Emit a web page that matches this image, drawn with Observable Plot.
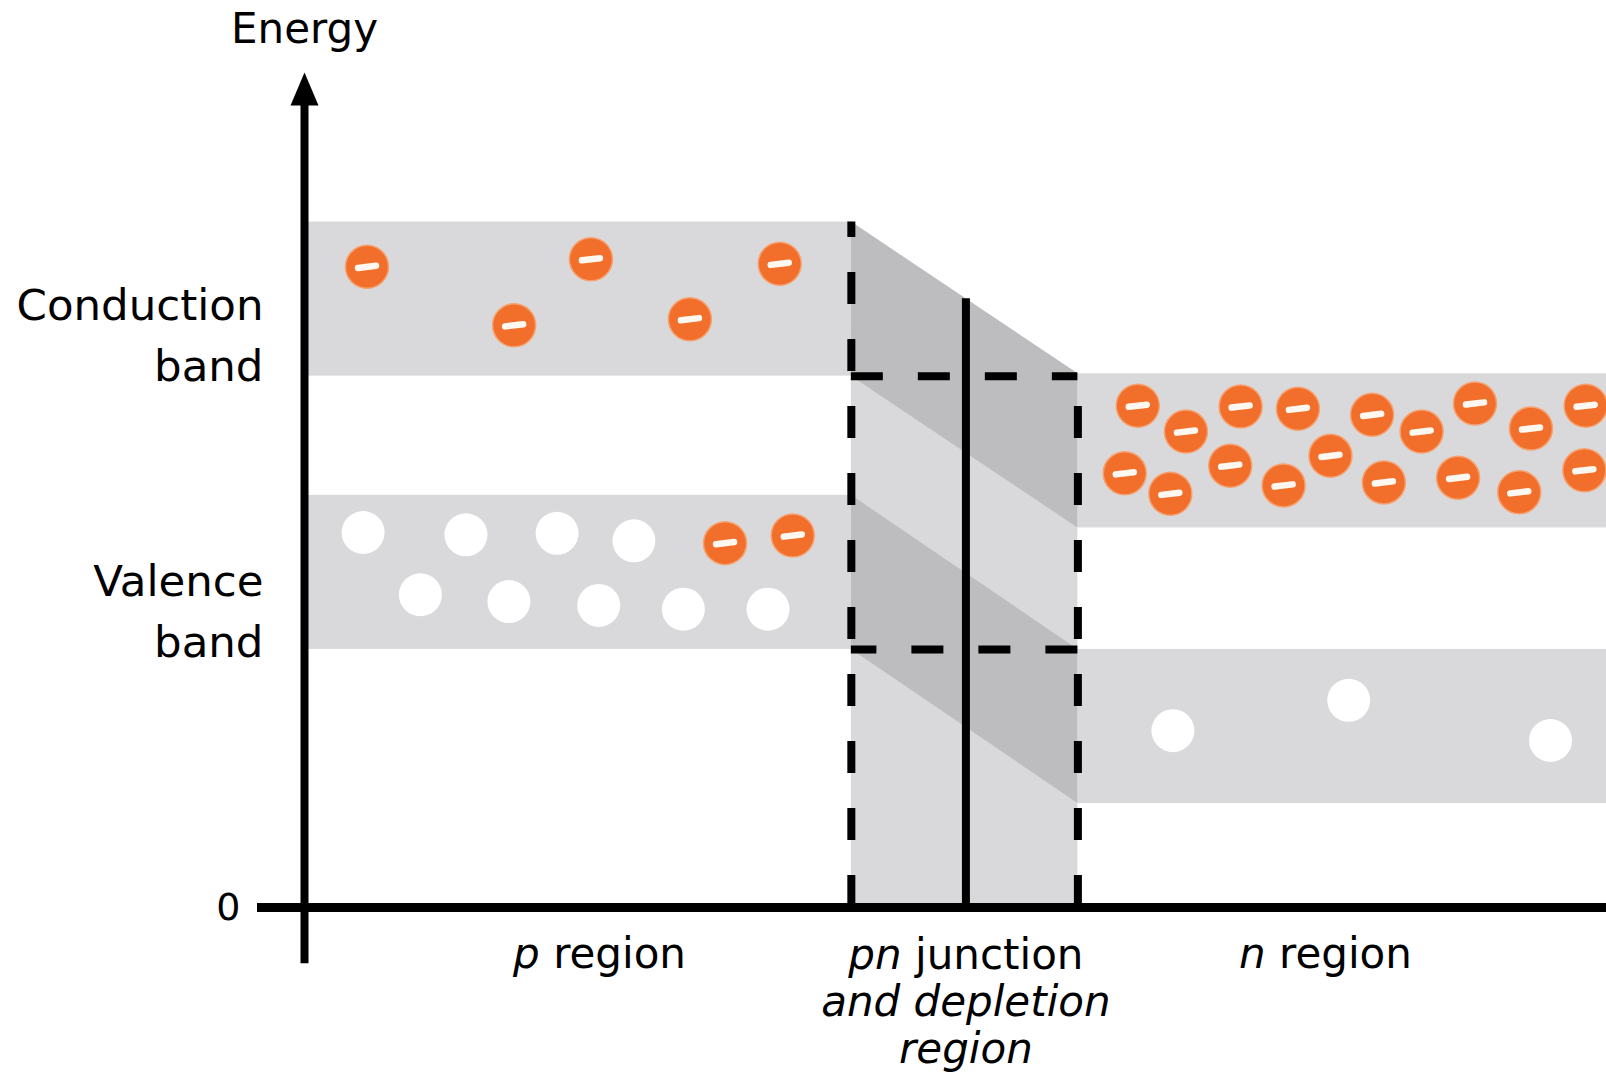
<!DOCTYPE html>
<html>
<head>
<meta charset="utf-8">
<script src="https://cdn.jsdelivr.net/npm/d3@7"></script>
<script src="https://cdn.jsdelivr.net/npm/@observablehq/plot@0.6"></script>
<style>
  html, body { margin: 0; padding: 0; background: #ffffff; overflow: hidden; }
</style>
</head>
<body>
<div id="chart"></div>
<script>
// ---------- data (position along device: 0–100, energy: arbitrary units, 0 at baseline) ----------
const positionDomain = [0, 100];
const energyDomain = [0, 11];

const depletionLeft = 42.0;
const depletionRight = 59.4;
const junctionPosition = 50.8;

const bandRegion = ["p", "p", "n", "n"];
const bandKind   = ["conduction", "valence", "conduction", "valence"];
const bandStart  = [0, 0, 59.4, 59.4];
const bandEnd    = [42.0, 42.0, 100, 100];
const bandBottom = [7.0, 3.4, 5.0, 1.37];
const bandTop    = [9.03, 5.43, 7.03, 3.4];

// electrons (orange, "−")
const electronX = [4.8, 22.0, 16.1, 29.6, 36.5, 32.3, 37.5,
                   64.0, 67.7, 71.9, 76.3, 82.0, 85.8, 89.9, 94.2, 98.4,
                   63.0, 66.5, 71.1, 75.2, 78.8, 82.9, 88.6, 93.3, 98.3];
const electronE = [8.44, 8.54, 7.67, 7.75, 8.48, 4.80, 4.90,
                   6.61, 6.27, 6.60, 6.57, 6.49, 6.27, 6.64, 6.31, 6.61,
                   5.72, 5.45, 5.82, 5.56, 5.95, 5.60, 5.66, 5.47, 5.76];

// holes (white)
const holeX = [4.5, 12.4, 19.4, 25.3, 8.9, 15.7, 22.6, 29.1, 35.6, 66.7, 80.2, 95.7];
const holeE = [4.94, 4.91, 4.93, 4.83, 4.12, 4.03, 3.98, 3.93, 3.93, 2.33, 2.73, 2.20];

const axisTitle = "Energy";
const bandLabels = ["Conduction\nband", "Valence\nband"];
const bandLabelE = [7.59, 3.96];
const regionLabels = ["p region", "pn junction\nand depletion\nregion", "n region"];
const regionLabelX = [22.66, 50.8, 78.42];

// ---------- derived tables ----------
const bands = bandRegion.map((r, i) => ({region: r, kind: bandKind[i], start: bandStart[i], end: bandEnd[i], bottom: bandBottom[i], top: bandTop[i]}));
const pCB = bands[0], pVB = bands[1], nCB = bands[2], nVB = bands[3];

const bent = [];
for (const [p, n] of [[pCB, nCB], [pVB, nVB]]) {
  bent.push({kind: p.kind, x: depletionLeft, y1: p.bottom, y2: p.top});
  bent.push({kind: p.kind, x: depletionRight, y1: n.bottom, y2: n.top});
}
const depletionFill = [{x: depletionLeft, top: pCB.top}, {x: depletionRight, top: nCB.top}];
const junctionTop = pCB.top + (nCB.top - pCB.top) * (junctionPosition - depletionLeft) / (depletionRight - depletionLeft);

const electrons = electronX.map((x, i) => ({x, e: electronE[i]}));
const holes = holeX.map((x, i) => ({x, e: holeE[i]}));

// ---------- custom symbols ----------
const minusSymbol = {draw(ctx, size) { const r = Math.sqrt(size / Math.PI); ctx.moveTo(-r, 0.12 * r); ctx.lineTo(r, -0.12 * r); }};
const arrowSymbol = {draw(ctx, size) { const r = Math.sqrt(size / Math.PI); ctx.moveTo(0, 0); ctx.lineTo(-r, 2.35 * r); ctx.lineTo(r, 2.35 * r); ctx.closePath(); }};

const light = "#d9d9dc";
const dark = "#bdbdc0";
const orange = "#f26e2b";
const dash = "32,35";

const chart = Plot.plot({
  width: 1606,
  height: 1072,
  marginLeft: 304,
  marginRight: 0,
  marginTop: 72,
  marginBottom: 165,
  style: {fontFamily: "'DejaVu Sans', sans-serif", background: "#ffffff", color: "#000000"},
  x: {domain: positionDomain, axis: null},
  y: {domain: energyDomain},
  marks: [
    Plot.rect(bands, {x1: "start", x2: "end", y1: "bottom", y2: "top", fill: light}),
    Plot.areaY(depletionFill, {x: "x", y1: 0, y2: "top", fill: light}),
    Plot.areaY(bent, {x: "x", y1: "y1", y2: "y2", z: "kind", fill: dark}),
    // depletion region boundaries
    Plot.ruleX([depletionLeft], {y1: 0, y2: pCB.top, stroke: "#000", strokeWidth: 8, strokeDasharray: dash}),
    Plot.ruleX([depletionRight], {y1: 0, y2: nCB.top, stroke: "#000", strokeWidth: 8, strokeDasharray: dash}),
    Plot.ruleY([pCB.bottom], {x1: depletionLeft, x2: depletionRight, stroke: "#000", strokeWidth: 8, strokeDasharray: dash}),
    Plot.ruleY([nVB.top], {x1: depletionRight, x2: depletionLeft, stroke: "#000", strokeWidth: 8, strokeDasharray: dash}),
    Plot.ruleX([junctionPosition], {y1: 0, y2: junctionTop, stroke: "#000", strokeWidth: 8}),
    // axes
    Plot.ruleY([0], {x1: 0, x2: 100, stroke: "#000", strokeWidth: 9}),
    Plot.ruleX([0], {y1: -0.74, y2: 10.7, stroke: "#000", strokeWidth: 8}),
    Plot.dot([0], {x: 0, y: energyDomain[1], r: 14, symbol: arrowSymbol, fill: "#000", stroke: null}),
    Plot.axisY({ticks: [0], tickSize: 47, tickPadding: 17, fontSize: 38, strokeWidth: 9, label: null, tickFormat: d => String(d)}),
    // carriers
    Plot.dot(holes, {x: "x", y: "e", r: 21.5, fill: "#ffffff", stroke: null}),
    Plot.dot(electrons, {x: "x", y: "e", r: 21.5, fill: orange, stroke: "#f6a16f", strokeWidth: 1.5}),
    Plot.dot(electrons, {x: "x", y: "e", r: 9, symbol: minusSymbol, fill: "none", stroke: "#fff8f0", strokeWidth: 6.5, strokeLinecap: "round"}),
    // labels
    Plot.text([axisTitle], {x: 0, y: 11.57, text: d => d, fontSize: 42, fill: "#000", lineAnchor: "middle"}),
    Plot.text(bandLabels, {x: -3.15, y: (d, i) => bandLabelE[i], text: d => d, textAnchor: "end", lineAnchor: "middle", lineHeight: 1.4, fontSize: 43.5, fill: "#000"}),
    Plot.text([regionLabels[0], regionLabels[2]], {x: (d, i) => [regionLabelX[0], regionLabelX[2]][i], y: -0.41, text: d => d, lineAnchor: "top", fontSize: 42, fill: "#000"}),
    Plot.text([regionLabels[1]], {x: regionLabelX[1], y: -0.37, text: d => d, lineAnchor: "top", lineHeight: 1.12, fontSize: 42, fontStyle: "italic", fill: "#000"})
  ]
});

// mixed styles: italic letters p / n
const NS = "http://www.w3.org/2000/svg";
function styled(parent, parts) {
  while (parent.firstChild) parent.removeChild(parent.firstChild);
  for (const [txt, style] of parts) {
    if (style) {
      const t = document.createElementNS(NS, "tspan");
      t.setAttribute("font-style", style);
      t.textContent = txt;
      parent.appendChild(t);
    } else {
      parent.appendChild(document.createTextNode(txt));
    }
  }
}
chart.querySelectorAll("text, tspan").forEach(el => {
  if (el.children.length) return;
  const s = el.textContent;
  if (s === "p region") styled(el, [["p", "italic"], [" region", null]]);
  else if (s === "n region") styled(el, [["n", "italic"], [" region", null]]);
  else if (s === "pn junction") styled(el, [["pn", null], [" junction", "normal"]]);
});

document.getElementById("chart").appendChild(chart);
</script>
</body>
</html>
